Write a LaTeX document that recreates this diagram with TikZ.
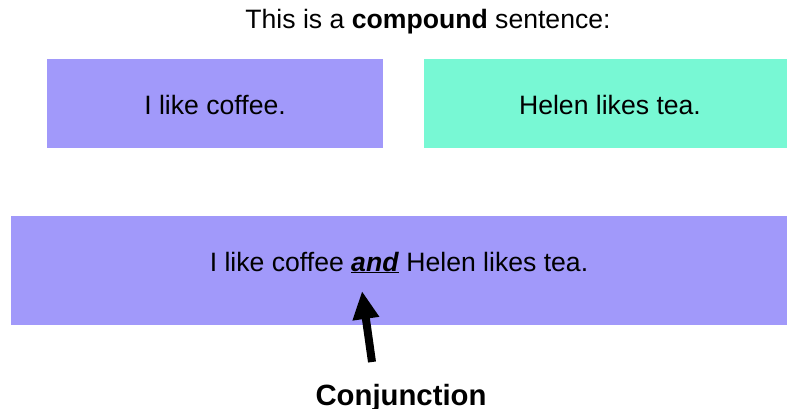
\documentclass[tikz,border=0pt]{standalone}
\usepackage{fontspec}
\setmainfont{Liberation Sans}
\usetikzlibrary{arrows.meta}
\definecolor{lilac}{HTML}{A199FA}
\definecolor{mint}{HTML}{78F8D4}
\tikzset{
  box/.style={inner sep=0pt, minimum height=89pt},
  phrase/.style={anchor=base, inner sep=0pt, font=\fontsize{26.6}{30}\selectfont},
}
\begin{document}
\begin{tikzpicture}[x=1pt,y=-1pt]
\useasboundingbox (0,0) rectangle (787,409);
\def\boxtop{59}
\def\boxbot{148}

% the two clauses
\fill[lilac] (47,\boxtop) rectangle (383,\boxbot);
\fill[mint] (424,\boxtop) rectangle (787,\boxbot);
\node[phrase] (left) at (215,115) {I like coffee.};
\node[phrase] (right) at (610,115) {Helen likes tea.};

% joined sentence
\fill[lilac] (11,216) rectangle (787,325);
\node[phrase] (joined) at (399,271) {I like coffee \underline{\textbf{\textit{and}}} Helen likes tea.};

\node[phrase] (title) at (428,29) {This is a \textbf{compound} sentence:};
\node[phrase, font=\fontsize{29.3}{32}\bfseries] (conj) at (401,405) {Conjunction};

\coordinate (tail) at (372,362);
\coordinate (tip) at (362,291);
\draw[line width=8pt, -{Triangle[width=25pt,length=28pt]}] (tail) -- (tip);
\end{tikzpicture}
\end{document}
